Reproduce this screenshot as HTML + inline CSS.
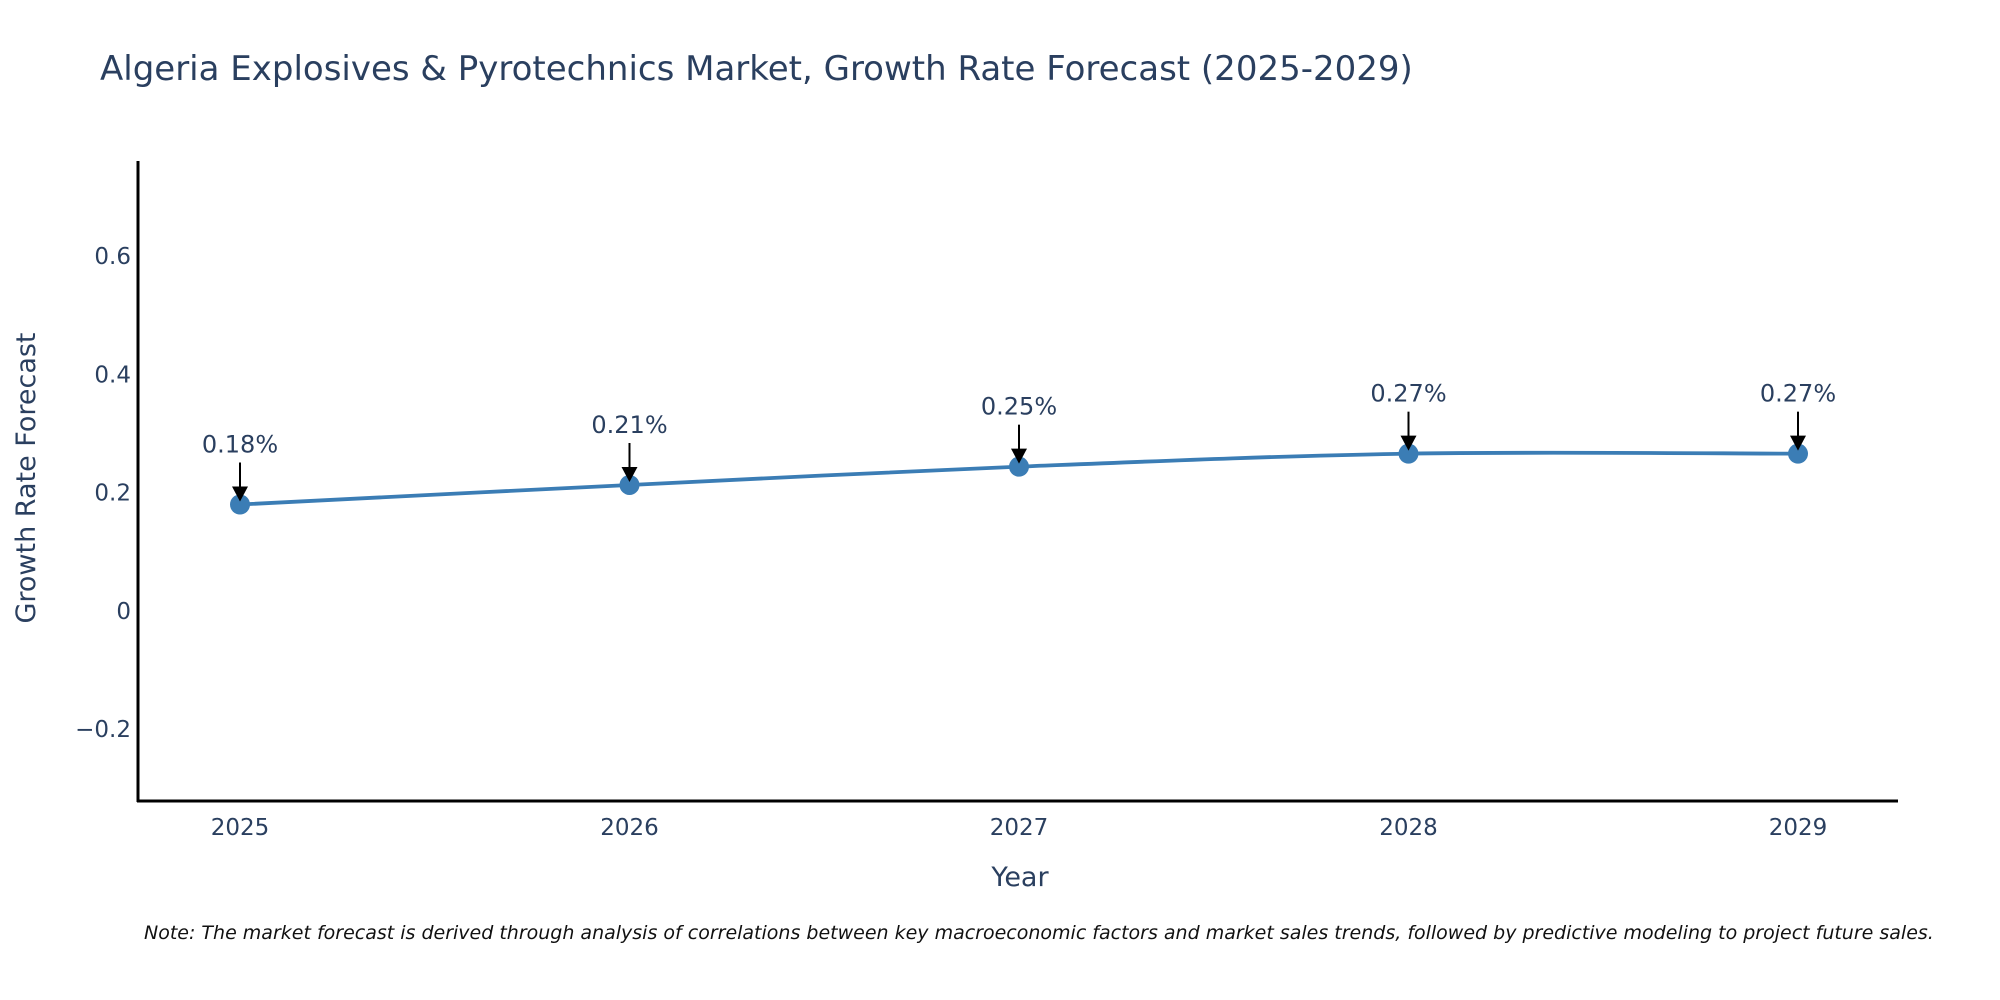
<!DOCTYPE html>
<html><head><meta charset="utf-8"><style>
html,body{margin:0;padding:0;background:#fff;width:2000px;height:1000px;overflow:hidden}
svg text{font-family:"DejaVu Sans","Liberation Sans",sans-serif}
</style></head><body>
<svg id="chart" width="2000" height="1000">
<text x="100" y="80" font-size="34" fill="#2a3f5f">Algeria Explosives &amp; Pyrotechnics Market, Growth Rate Forecast (2025-2029)</text>
<g id="yticks"></g>
<g id="xticks"></g>
<line x1="138" y1="161" x2="138" y2="802" stroke="#000" stroke-width="3"/>
<line x1="137" y1="801" x2="1898" y2="801" stroke="#000" stroke-width="3"/>
<text transform="translate(35,478) rotate(-90)" text-anchor="middle" font-size="27" fill="#2a3f5f">Growth Rate Forecast</text>
<text x="1020" y="886" text-anchor="middle" font-size="27" fill="#2a3f5f">Year</text>
<path id="line" fill="none" stroke="#3b7db5" stroke-width="3.8"/>
<g id="points"></g>
<g id="annots"></g>
<text x="144" y="939" font-size="19" font-style="italic" fill="#111">Note: The market forecast is derived through analysis of correlations between key macroeconomic factors and market sales trends, followed by predictive modeling to project future sales.</text>
</svg>
<script>
const years = [2025, 2026, 2027, 2028, 2029];
const values = [0.18, 0.213, 0.244, 0.266, 0.266];
const labels = ["0.18%", "0.21%", "0.25%", "0.27%", "0.27%"];
const yTicks = [-0.2, 0, 0.2, 0.4, 0.6];
const yTickLabels = ["\u22120.2", "0", "0.2", "0.4", "0.6"];

const NS = "http://www.w3.org/2000/svg";
const yMin = -0.3215, yMax = 0.761, pTop = 161, pBot = 801;
function ys(v){ return pBot - (v - yMin) / (yMax - yMin) * (pBot - pTop); }
const x0 = 240, x1 = 1798;
function xs(yr){ return x0 + (yr - years[0]) / (years[years.length-1] - years[0]) * (x1 - x0); }
function mk(tag, attrs, parent){ const e = document.createElementNS(NS, tag); for (const k in attrs) e.setAttribute(k, attrs[k]); parent.appendChild(e); return e; }

const yg = document.getElementById('yticks');
yTicks.forEach((t, i) => {
  const e = mk('text', {x:131, y:ys(t)+8, 'text-anchor':'end', 'font-size':23, fill:'#2a3f5f'}, yg);
  
  
  e.textContent = yTickLabels[i];
});
const xg = document.getElementById('xticks');
years.forEach(y => {
  const e = mk('text', {x:xs(y), y:835, 'text-anchor':'middle', 'font-size':23, fill:'#2a3f5f'}, xg);
  
  
  e.textContent = y;
});

const pts = years.map((y, i) => [xs(y), ys(values[i])]);
let d = `M${pts[0][0]},${pts[0][1]}`;
const s = 0.33;
for (let i = 0; i < pts.length-1; i++) {
  const p0 = pts[Math.max(0,i-1)], p1 = pts[i], p2 = pts[i+1], p3 = pts[Math.min(pts.length-1,i+2)];
  const c1 = [p1[0] + (p2[0]-p0[0])*s/2, p1[1] + (p2[1]-p0[1])*s/2];
  const c2 = [p2[0] - (p3[0]-p1[0])*s/2, p2[1] - (p3[1]-p1[1])*s/2];
  d += ` C${c1[0]},${c1[1]} ${c2[0]},${c2[1]} ${p2[0]},${p2[1]}`;
}
document.getElementById('line').setAttribute('d', d);

const pg = document.getElementById('points'), ag = document.getElementById('annots');
pts.forEach((p, i) => {
  const c = mk('circle', {cx:p[0], cy:p[1], r:10, fill:'#3b7db5'}, pg);
  
  
  const ln = mk('line', {x1:p[0], y1:p[1]-42, x2:p[0], y2:p[1]-14, stroke:'#000', 'stroke-width':2}, ag);
  
  
  const hd = mk('polygon', {points:`${p[0]-8},${p[1]-18} ${p[0]+8},${p[1]-18} ${p[0]},${p[1]-3}`, fill:'#000'}, ag);
  
  
  const t = mk('text', {x:p[0], y:p[1]-52, 'text-anchor':'middle', 'font-size':24, fill:'#2a3f5f'}, ag);
  
  
  t.textContent = labels[i];
});
</script>
</body></html>
